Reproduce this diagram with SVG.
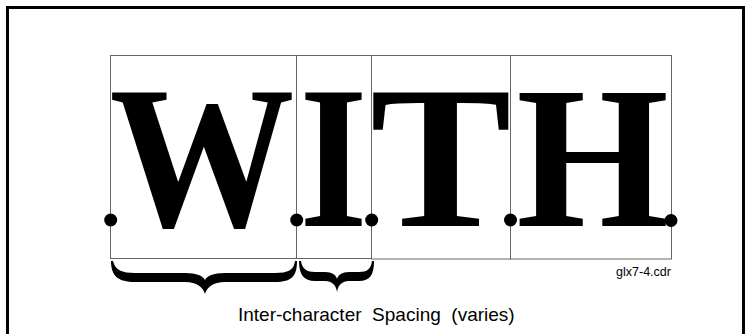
<svg xmlns="http://www.w3.org/2000/svg" width="748" height="334" viewBox="0 0 748 334">
<style>
.frame{fill:none;stroke:#000;stroke-width:3}
.cell{fill:none;stroke:#666;stroke-width:1}
.big{font-family:"Liberation Serif","Times New Roman",serif;font-weight:bold;font-size:204px;fill:#000}
.dot{fill:#000}
.brace{fill:#000}
.lbl{font-family:"Liberation Sans",Arial,sans-serif;fill:#000}
</style>
<rect class="frame" x="7.5" y="7.5" width="736" height="400"/>
<g id="cell-W">
<rect class="cell" x="110.5" y="55.5" width="186" height="203"/>
<text class="big" x="109.5" y="226" textLength="185" lengthAdjust="spacingAndGlyphs">W</text>
</g>
<g id="cell-I">
<rect class="cell" x="296.5" y="55.5" width="75" height="203"/>
<text class="big" x="299.5" y="226" textLength="68" lengthAdjust="spacingAndGlyphs">I</text>
</g>
<g id="cell-T">
<rect class="cell" x="371.5" y="55.5" width="139" height="203.5"/>
<text class="big" x="370" y="226" textLength="141.5" lengthAdjust="spacingAndGlyphs">T</text>
</g>
<g id="cell-H">
<rect class="cell" x="510.5" y="55.5" width="161" height="203.5"/>
<text class="big" x="516.3" y="226" textLength="152.7" lengthAdjust="spacingAndGlyphs">H</text>
</g>
<g id="dots">
<circle class="dot" cx="110.7" cy="220" r="6.5"/>
<circle class="dot" cx="296.7" cy="220" r="6.5"/>
<circle class="dot" cx="371.7" cy="220" r="6.5"/>
<circle class="dot" cx="510.5" cy="220" r="6.5"/>
<circle class="dot" cx="671" cy="220.5" r="6.5"/>
</g>
<g id="connectors">
<path id="brace-W" class="brace" d="M111,261 C111,276 118,282 135,282 L185,282 C197,282 203,287 205,294 C207,287 213,282 225,282 L275,282 C292,282 297,276 297,261 L295,261 C294,270 288,273 275,273 L225,273 C213,273 207,276 205,280 C203,276 197,273 185,273 L135,273 C122,273 115,270 113,261 Z"/>
<path id="brace-I" class="brace" d="M299,261 C299,275 304,281 315,281 L325,281 C332,281 336,285 337,292 C338,285 342,281 349,281 L359,281 C370,281 374,275 374,261 L372,261 C371,269 367,272 359,272 L349,272 C342,272 338,275 337,279 C336,275 332,272 325,272 L315,272 C307,272 302,269 301,261 Z"/>
</g>
<g id="labels">
<text class="lbl" x="616" y="276" font-size="12" textLength="55" lengthAdjust="spacingAndGlyphs">glx7-4.cdr</text>
<text class="lbl" x="238" y="321" font-size="19" xml:space="preserve">Inter-character  Spacing  (varies)</text>
</g>
</svg>
